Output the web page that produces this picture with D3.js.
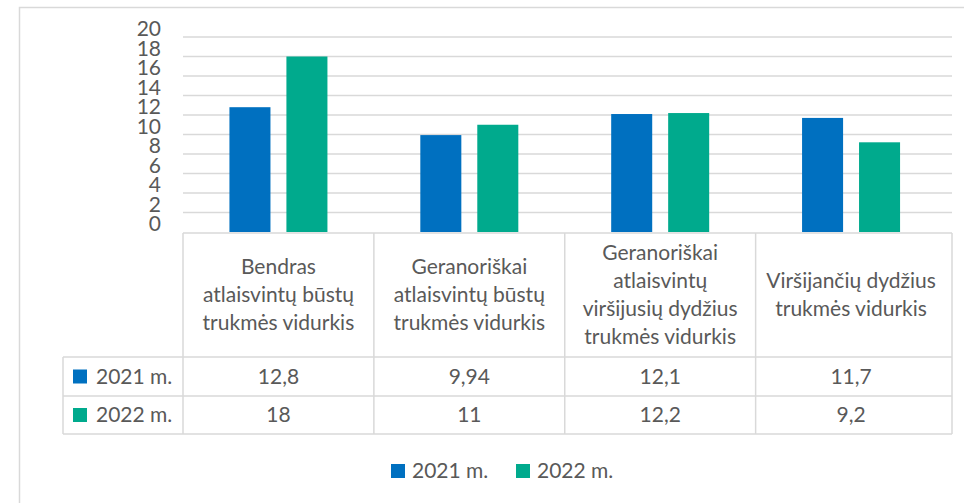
<!DOCTYPE html>
<html>
<head>
<meta charset="utf-8">
<script src="https://cdn.jsdelivr.net/npm/d3@7"></script>
<style>
  body { margin: 0; background: #fff; }
  svg { display: block; font-family: Lato, "Open Sans", sans-serif; }
  .txt { fill: #595959; font-weight: 400; }
</style>
</head>
<body>
<div class="chart"></div>
<script>
// data
var categories = [
  "Bendras\natlaisvintų būstų\ntrukmės vidurkis",
  "Geranoriškai\natlaisvintų būstų\ntrukmės vidurkis",
  "Geranoriškai\natlaisvintų\nviršijusių dydžius\ntrukmės vidurkis",
  "Viršijančių dydžius\ntrukmės vidurkis"
];
var seriesNames = ["2021 m.", "2022 m."];
var values2021 = [12.8, 9.94, 12.1, 11.7];
var values2022 = [18, 11, 12.2, 9.2];
var yTicks = [0, 2, 4, 6, 8, 10, 12, 14, 16, 18, 20];
var colors = ["#0070C0", "#00AA8D"];

var W = 964, H = 503;
var plotLeft = 183, plotRight = 952, plotTop = 37, base = 232;
var headerBottom = 357, row1Bottom = 396, row2Bottom = 434, labelLeft = 63;
var gridColor = "#d9d9d9";
var fs = "21px";

var series = [values2021, values2022];

var svg = d3.select(".chart").append("svg")
  .attr("width", W)
  .attr("height", H);

// outer frame (runs off the right/bottom edges)
svg.append("rect")
  .attr("x", 19.5).attr("y", 7.5)
  .attr("width", W + 20).attr("height", H + 20)
  .attr("fill", "none").attr("stroke", gridColor).attr("stroke-width", 1.5);

var x = d3.scaleBand()
  .domain(d3.range(categories.length))
  .range([plotLeft, 946.5]);

var xs = d3.scaleBand()
  .domain(d3.range(seriesNames.length))
  .range([x.bandwidth() / 2 - 49, x.bandwidth() / 2 + 49])
  .paddingInner(0.28);

var y = d3.scaleLinear().domain([0, 20]).range([base, plotTop]);

// gridlines
svg.append("g").selectAll("line")
  .data(yTicks.filter(function(d) { return d > 0; }))
  .enter().append("line")
  .attr("x1", plotLeft).attr("x2", plotRight)
  .attr("y1", function(d) { return y(d); })
  .attr("y2", function(d) { return y(d); })
  .attr("stroke", gridColor).attr("stroke-width", 1.5);

// y axis labels
var yAxis = d3.axisLeft(y).tickValues(yTicks).tickSize(0).tickPadding(22);
var ya = svg.append("g")
  .attr("transform", "translate(" + plotLeft + ",0)")
  .call(yAxis);
ya.select(".domain").remove();
ya.selectAll("text")
  .attr("class", "txt")
  .attr("dy", "-0.05em")
  .style("font-size", fs)
  .style("font-family", "Lato, 'Open Sans', sans-serif");

// bars
var groups = svg.append("g").selectAll("g")
  .data(categories)
  .enter().append("g")
  .attr("transform", function(d, i) { return "translate(" + x(i) + ",0)"; });

groups.selectAll("rect")
  .data(function(d, i) { return series.map(function(s, k) { return {k: k, v: s[i]}; }); })
  .enter().append("rect")
  .attr("x", function(d) { return xs(d.k); })
  .attr("width", xs.bandwidth())
  .attr("y", function(d) { return y(d.v); })
  .attr("height", function(d) { return base - y(d.v); })
  .attr("fill", function(d) { return colors[d.k]; });

// data table
var tbl = svg.append("g").attr("stroke", gridColor).attr("stroke-width", 1.5).attr("fill", "none");
var hLines = [
  {y: base + 1, x1: plotLeft, x2: plotRight},
  {y: headerBottom, x1: labelLeft, x2: plotRight},
  {y: row1Bottom, x1: labelLeft, x2: plotRight},
  {y: row2Bottom, x1: labelLeft, x2: plotRight}
];
tbl.selectAll(".h").data(hLines).enter().append("line")
  .attr("x1", function(d) { return d.x1; }).attr("x2", function(d) { return d.x2; })
  .attr("y1", function(d) { return d.y; }).attr("y2", function(d) { return d.y; });

var vx = categories.map(function(c, i) { return x(i); }).concat([plotRight]);
tbl.selectAll(".v").data(vx).enter().append("line")
  .attr("x1", function(d) { return d; }).attr("x2", function(d) { return d; })
  .attr("y1", base + 1).attr("y2", row2Bottom);
tbl.append("line")
  .attr("x1", labelLeft).attr("x2", labelLeft)
  .attr("y1", headerBottom).attr("y2", row2Bottom);

// header text
var lineH = 28;
svg.append("g").selectAll("text")
  .data(categories)
  .enter().append("text")
  .attr("class", "txt")
  .attr("text-anchor", "middle")
  .style("font-size", fs)
  .each(function(d, i) {
    var lines = d.split("\n");
    var cx = x(i) + x.bandwidth() / 2;
    var cy = (base + headerBottom) / 2 - (lines.length - 1) * lineH / 2;
    d3.select(this).selectAll("tspan")
      .data(lines)
      .enter().append("tspan")
      .attr("x", cx)
      .attr("y", function(l, j) { return cy + j * lineH; })
      .attr("dy", "0.35em")
      .text(function(l) { return l; });
  });

// value rows
var fmt = function(v) { return String(v).replace(".", ","); };
var rowMid = [(headerBottom + row1Bottom) / 2, (row1Bottom + row2Bottom) / 2];

series.forEach(function(s, k) {
  var r = svg.append("g");
  r.append("rect")
    .attr("x", 73).attr("y", rowMid[k] - 7)
    .attr("width", 14).attr("height", 14)
    .attr("fill", colors[k]);
  r.append("text")
    .attr("class", "txt")
    .attr("x", 96).attr("y", rowMid[k]).attr("dy", "0.35em")
    .style("font-size", fs)
    .text(seriesNames[k]);
  r.selectAll(".val").data(s).enter().append("text")
    .attr("class", "txt")
    .attr("text-anchor", "middle")
    .attr("x", function(d, i) { return x(i) + x.bandwidth() / 2; })
    .attr("y", rowMid[k]).attr("dy", "0.35em")
    .style("font-size", fs)
    .text(fmt);
});

// legend
var legX = [391, 516];
var leg = svg.append("g").selectAll("g")
  .data(seriesNames)
  .enter().append("g")
  .attr("transform", function(d, i) { return "translate(" + legX[i] + ",464)"; });
leg.append("rect")
  .attr("width", 14).attr("height", 14)
  .attr("fill", function(d, i) { return colors[i]; });
leg.append("text")
  .attr("class", "txt")
  .attr("x", 21).attr("y", 7).attr("dy", "0.35em")
  .style("font-size", fs)
  .text(function(d) { return d; });
</script>
</body>
</html>
